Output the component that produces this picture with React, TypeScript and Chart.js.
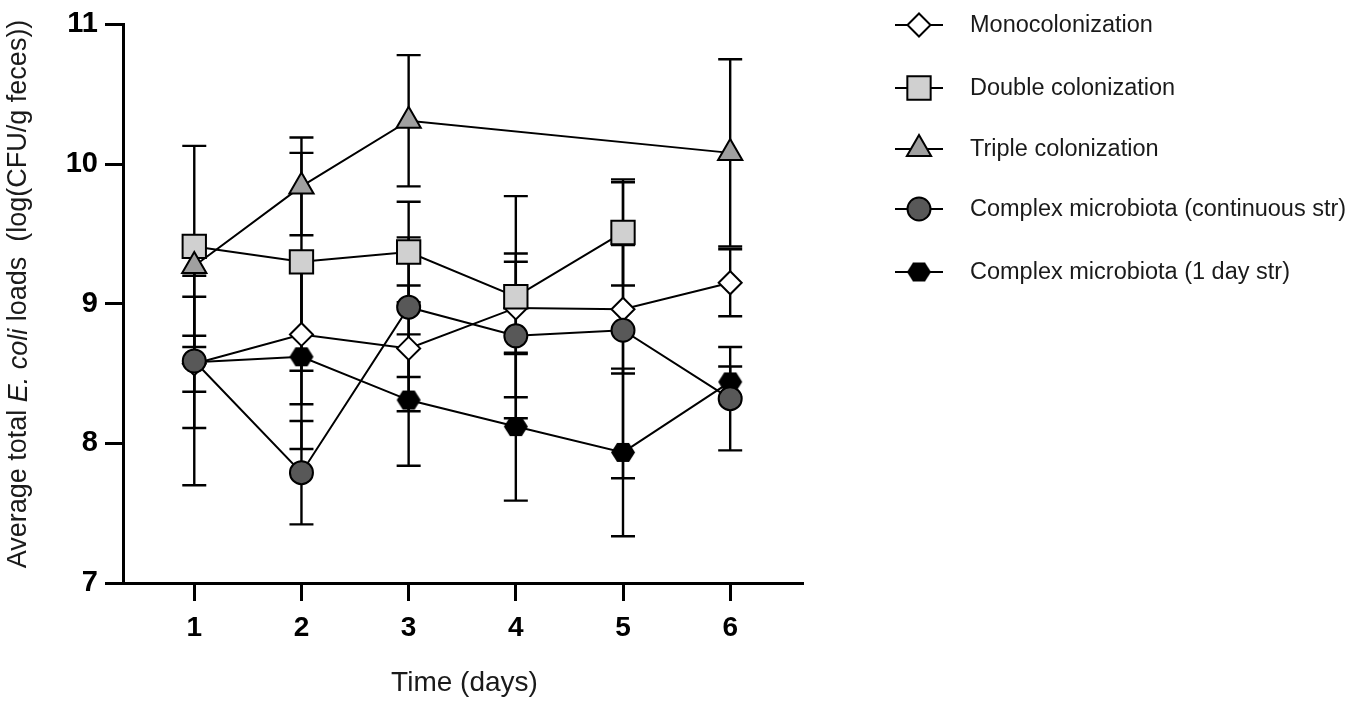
import React, { useEffect, useRef } from 'react';
import { Chart, registerables } from 'chart.js';
import { drawPoint } from 'chart.js/helpers';

Chart.register(...registerables);

// days on the x axis
const days = [1, 2, 3, 4, 5, 6];

// means (log CFU/g feces), null = not measured
const mono = [8.57, 8.78, 8.68, 8.97, 8.96, 9.15];
const monoSd = [0.2, 0.5, 0.45, 0.33, 0.46, 0.24];

const double = [9.41, 9.3, 9.37, 9.05, 9.51, null];
const doubleSd = [0.72, 0.78, 0.36, 0.72, 0.38, null];

const triple = [9.27, 9.84, 10.31, null, null, 10.08];
const tripleSd = [0.07, 0.35, 0.47, null, null, 0.67];

const continuous = [8.59, 7.79, 8.975, 8.77, 8.81, 8.32];
const continuousSd = [0.89, 0.37, 0.5, 0.59, 1.06, 0.37];

const oneDay = [8.58, 8.62, 8.31, 8.12, 7.935, 8.44];
const oneDaySd = [0.47, 0.66, 0.47, 0.53, 0.6, 0.11];

const yTicks = [7, 8, 9, 10, 11];

const FONT = "'Liberation Sans', Arial, Helvetica, sans-serif";

function toPoints(vals: (number | null)[], sd: (number | null)[]) {
  const data: { x: number; y: number }[] = [];
  const errors: number[] = [];
  vals.forEach((v, i) => {
    if (v == null) return;
    data.push({ x: days[i], y: v });
    errors.push(sd[i] ?? 0);
  });
  return { data, errors };
}

function makeHexagon() {
  const c = document.createElement('canvas');
  c.width = 26;
  c.height = 23;
  const g = c.getContext('2d')!;
  const cx = 13, cy = 11.5, r = 12;
  g.beginPath();
  for (let k = 0; k < 6; k++) {
    const a = (k * Math.PI) / 3;
    const px = cx + r * Math.cos(a);
    const py = cy + r * Math.sin(a) * 0.92;
    if (k === 0) g.moveTo(px, py);
    else g.lineTo(px, py);
  }
  g.closePath();
  g.fillStyle = '#000';
  g.fill();
  return c;
}

const errorBars = {
  id: 'errorBars',
  beforeDatasetsDraw(chart: any) {
    const { ctx, scales } = chart;
    const xs = scales.x, ys = scales.y;
    ctx.save();
    ctx.strokeStyle = '#000';
    ctx.lineWidth = 2.4;
    chart.data.datasets.forEach((ds: any) => {
      ds.data.forEach((p: any, i: number) => {
        const e = ds.errors[i];
        if (!e) return;
        const px = xs.getPixelForValue(p.x);
        const top = ys.getPixelForValue(p.y + e);
        const bot = ys.getPixelForValue(p.y - e);
        ctx.beginPath();
        ctx.moveTo(px, top);
        ctx.lineTo(px, bot);
        ctx.moveTo(px - 12, top);
        ctx.lineTo(px + 12, top);
        ctx.moveTo(px - 12, bot);
        ctx.lineTo(px + 12, bot);
        ctx.stroke();
      });
    });
    ctx.restore();
  },
};

const annotations = {
  id: 'annotations',
  afterDraw(chart: any) {
    const { ctx, chartArea } = chart;
    ctx.save();
    // legend
    const rows = [25, 88, 149, 209, 272];
    chart.data.datasets.forEach((ds: any, i: number) => {
      const y = rows[i];
      ctx.strokeStyle = '#000';
      ctx.lineWidth = 2;
      ctx.beginPath();
      ctx.moveTo(895, y);
      ctx.lineTo(943, y);
      ctx.stroke();
      ctx.fillStyle = ds.pointBackgroundColor;
      ctx.strokeStyle = '#000';
      ctx.lineWidth = ds.pointBorderWidth;
      drawPoint(ctx, { pointStyle: ds.pointStyle, radius: ds.pointRadius, rotation: 0, borderWidth: ds.pointBorderWidth }, 919, y);
      ctx.fillStyle = '#1a1a1a';
      ctx.font = `23.5px ${FONT}`;
      ctx.textAlign = 'left';
      ctx.textBaseline = 'middle';
      ctx.fillText(ds.label, 970, y + 1);
    });

    // x title
    ctx.fillStyle = '#1a1a1a';
    ctx.font = `28px ${FONT}`;
    ctx.textAlign = 'center';
    ctx.textBaseline = 'middle';
    ctx.fillText('Time (days)', (chartArea.left + chartArea.right) / 2 + 2, 683);

    // y title with italic species name
    const parts = [
      { t: 'Average total ', f: `27px ${FONT}` },
      { t: 'E. coli', f: `italic 27px ${FONT}` },
      { t: ' loads  (log(CFU/g feces))', f: `27px ${FONT}` },
    ];
    let total = 0;
    parts.forEach((p) => {
      ctx.font = p.f;
      total += ctx.measureText(p.t).width;
    });
    ctx.translate(19, 294);
    ctx.rotate(-Math.PI / 2);
    ctx.textAlign = 'left';
    let cx = -total / 2;
    parts.forEach((p) => {
      ctx.font = p.f;
      ctx.fillText(p.t, cx, 0);
      cx += ctx.measureText(p.t).width;
    });
    ctx.restore();
  },
};

const App: React.FC = () => {
  const canvasRef = useRef<HTMLCanvasElement | null>(null);
  const chartRef = useRef<Chart | null>(null);

  useEffect(() => {
    document.body.style.margin = '0';
    if (!canvasRef.current) return;
    const ctx = canvasRef.current.getContext('2d');
    if (!ctx) return;

    const hex = makeHexagon();
    const m = toPoints(mono, monoSd);
    const d = toPoints(double, doubleSd);
    const t = toPoints(triple, tripleSd);
    const c = toPoints(continuous, continuousSd);
    const o = toPoints(oneDay, oneDaySd);

    const base = {
      type: 'line' as const,
      borderColor: '#000',
      borderWidth: 2,
      pointBorderColor: '#000',
      pointBorderWidth: 2,
      tension: 0,
      fill: false,
    };

    chartRef.current = new Chart(ctx, {
      type: 'line',
      data: {
        datasets: [
          { ...base, label: 'Monocolonization', data: m.data, errors: m.errors, pointStyle: 'rectRot', pointRadius: 11.5, pointBackgroundColor: '#ffffff', order: 5 } as any,
          { ...base, label: 'Double colonization', data: d.data, errors: d.errors, pointStyle: 'rect', pointRadius: 16.5, pointBackgroundColor: '#d0d0d0', order: 4 } as any,
          { ...base, label: 'Triple colonization', data: t.data, errors: t.errors, pointStyle: 'triangle', pointRadius: 14, pointBackgroundColor: '#a0a0a0', order: 3 } as any,
          { ...base, label: 'Complex microbiota (continuous str)', data: c.data, errors: c.errors, pointStyle: 'circle', pointRadius: 11.5, pointBackgroundColor: '#585858', order: 1 } as any,
          { ...base, label: 'Complex microbiota (1 day str)', data: o.data, errors: o.errors, pointStyle: hex, pointRadius: 11.5, pointBackgroundColor: '#000000', order: 2 } as any,
        ],
      },
      options: {
        animation: false,
        responsive: false,
        events: [],
        layout: { padding: { left: 0, top: 17, right: 552, bottom: 0 } },
        plugins: { legend: { display: false }, tooltip: { enabled: false } },
        scales: {
          x: {
            type: 'linear',
            min: 0.335,
            max: 6.67,
            afterBuildTicks: (scale: any) => {
              scale.ticks = days.map((v) => ({ value: v }));
            },
            afterFit: (scale: any) => {
              scale.height = 121;
            },
            border: { display: true, color: '#000', width: 3 },
            grid: { display: true, drawOnChartArea: false, drawTicks: true, tickLength: 18, color: '#000', lineWidth: 3 },
            ticks: { color: '#000', padding: 10, font: { family: FONT, size: 28, weight: 'bold' }, callback: (v: any) => String(v) },
          },
          y: {
            type: 'linear',
            min: 7,
            max: 11,
            afterBuildTicks: (scale: any) => {
              scale.ticks = yTicks.map((v) => ({ value: v }));
            },
            afterFit: (scale: any) => {
              scale.width = 123;
            },
            border: { display: true, color: '#000', width: 3 },
            grid: { display: true, drawOnChartArea: false, drawTicks: true, tickLength: 18, color: '#000', lineWidth: 3 },
            ticks: { color: '#000', padding: 7, font: { family: FONT, size: 29, weight: 'bold' }, callback: (v: any) => String(v) },
          },
        },
      } as any,
      plugins: [errorBars, annotations],
    });

    return () => {
      if (chartRef.current) {
        chartRef.current.destroy();
        chartRef.current = null;
      }
    };
  }, []);

  return (
    <div style={{ width: 1354, height: 704, background: '#fff' }}>
      <canvas ref={canvasRef} width={1354} height={704} style={{ width: 1354, height: 704, display: 'block' }}></canvas>
    </div>
  );
};

export default App;
